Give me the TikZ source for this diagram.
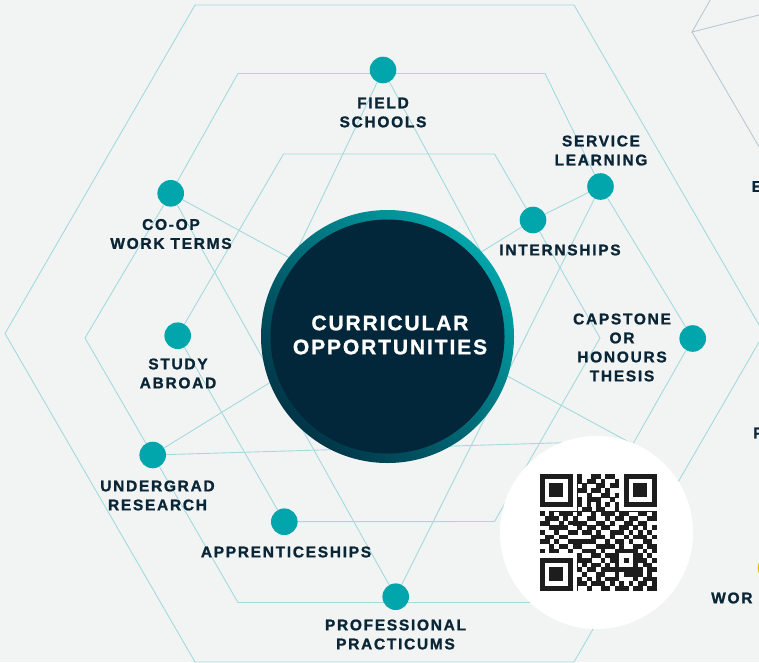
\documentclass[tikz,border=0pt]{standalone}
\usepackage{fontspec}
\newfontfamily\lblfont[LetterSpace=11, BoldFeatures={FakeBold=1.2}]{Liberation Sans}
\newfontfamily\corefont[LetterSpace=9, BoldFeatures={FakeBold=1.2}]{Liberation Sans}
\definecolor{bgc}{HTML}{F2F4F3}
\definecolor{webc}{HTML}{A3DADE}
\definecolor{dotc}{HTML}{00A6AB}
\definecolor{inkc}{HTML}{0A2536}
\definecolor{corec}{HTML}{02263A}
\definecolor{ringhi}{HTML}{00A4A9}
\definecolor{ringlo}{HTML}{003547}
\definecolor{qrink}{HTML}{1D1D1D}
\definecolor{grayc}{HTML}{BAC8D2}
\definecolor{yelc}{HTML}{F5B400}
\tikzset{
  web/.style={draw=webc, line width=0.9pt},
  grayline/.style={draw=grayc, line width=0.9pt},
  dotnode/.style={circle, fill=dotc, minimum size=26.6pt, inner sep=0pt},
  lbl/.style={text=inkc, font=\lblfont\bfseries\fontsize{15.5}{19}\selectfont, align=center, inner sep=0pt},
  corelbl/.style={text=white, font=\corefont\bfseries\fontsize{21}{24}\selectfont, align=center, inner sep=0pt},
}
\newcommand\qrrow[2]{\def\qrr{#1}\def\qrc{0}\qrparse#2\relax}
\def\qrdo{\fill[qrink] ({540+\qrc*4.66},{474+\qrr*4.66}) rectangle ++(4.9,4.9);}
\def\qrparse#1{\ifx\relax#1\else\ifnum#1=1 \qrdo\fi\pgfmathtruncatemacro\qrc{\qrc+1}\expandafter\qrparse\fi}
\newcommand\qrbox[4]{\fill[#4] ({540+#1*4.66},{474+#2*4.66}) rectangle ++({#3*4.66},{#3*4.66});}
\begin{document}
\begin{tikzpicture}[x=1pt,y=-1pt]
\clip (0,0) rectangle (759,662);
\fill[bgc] (0,0) rectangle (759,662);
% key points
\coordinate (fs) at (383,70);
\coordinate (sl) at (600.5,186.5);
\coordinate (int) at (533,220);
\coordinate (coop) at (170.7,193.3);
\coordinate (sa) at (177.7,335.7);
\coordinate (cap) at (692.7,338.5);
\coordinate (ur) at (152.7,455);
\coordinate (app) at (284.3,521.7);
\coordinate (pp) at (395.7,596.7);
\coordinate (hub) at (387.5,336.5);
\coordinate (qrc) at (596.5,532.5);
\coordinate (fsleft) at (278,290);
\coordinate (fsright) at (500,287);
\coordinate (coopend) at (638,447);
\coordinate (urend) at (620,441);
\coordinate (gv) at (692,32);
% hexagons
\draw[web] (195,5) -- (574,5) -- (764,333.5) -- (574,662) -- (195,662) -- (5,333.5) -- cycle;
\draw[web] (238,73.5) -- (545,73.5) -- (sl) -- (cap) -- (543,602.5) -- (238,602.5) -- (ur) -- (85,338) -- (coop) -- cycle;
\draw[web] (283.5,154) -- (494.5,154) -- (int) -- (600,338) -- (494.5,521.5) -- (app) -- (sa) -- cycle;
% connectors
\draw[web] (fs) -- (fsleft);
\draw[web] (fs) -- (fsright);
\draw[web] (coop) -- (pp);
\draw[web] (sl) -- (pp);
\draw[web] (coop) -- (coopend);
\draw[web] (ur) -- (int);
\draw[web] (int) -- (sl);
\draw[web] (ur) -- (urend);
% grey lines top right
\draw[grayline] (717,-12) -- (gv) -- (800,4.6);
\draw[grayline] (gv) -- (800,217);
% dots
\foreach \p in {fs,sl,int,coop,sa,cap,ur,app,pp} \node[dotnode] (\p dot) at (\p) {};
\node[dotnode, fill=yelc] (ydot) at (771,568) {};
% central circle
\shade[top color=ringhi, bottom color=ringlo, shading angle=-45] (hub) circle[radius=126.5];
\fill[corec] (hub) circle[radius=117];
\node[corelbl] (core) at (390,335) {CURRICULAR\\OPPORTUNITIES};
% QR
\fill[white] (qrc) circle[radius=96.5];
\qrrow{0}{10110 11010 01101 10010 11011}
\qrrow{1}{01101 00110 11010 01011 01101}
\qrrow{2}{11010 11101 00110 11100 10110}
\qrrow{3}{00101 00011 01101 00111 01011}
\qrrow{4}{10111 11100 10011 01010 11010}
\qrrow{5}{01001 00110 11100 10101 00111}
\qrrow{6}{11100 11011 00101 11010 10101}
\qrrow{7}{00110 00101 10110 01001 11010}
\qrrow{8}{10101 11010 01011 10110 01101}
\qrrow{9}{01110 10100 11001 01101 10011}
\qrrow{10}{11001 01111 00110 10011 01100}
\qrrow{11}{00111 10010 11011 00110 10101}
\qrrow{12}{10010 01101 10100 11101 01010}
\qrrow{13}{01101 11000 01110 10010 11101}
\qrrow{14}{11010 00111 11001 01101 00110}
\qrrow{15}{00101 10110 00111 10100 11011}
\qrrow{16}{10110 01001 11010 01111 00101}
\qrrow{17}{01011 10110 01101 10001 11010}
\qrrow{18}{11100 01011 10010 11010 01101}
\qrrow{19}{00110 11101 01101 00111 10110}
\qrrow{20}{10101 00110 11011 10100 01011}
\qrrow{21}{01110 11001 00110 01011 11010}
\qrrow{22}{11011 01110 10101 11000 10111}
\qrrow{23}{00100 10011 01110 10101 01101}
\qrrow{24}{11010 11100 10011 01110 11011}
\qrbox{0}{0}{8}{white}\qrbox{0}{0}{7}{qrink}\qrbox{1}{1}{5}{white}\qrbox{2}{2}{3}{qrink}
\qrbox{17}{0}{8}{white}\qrbox{18}{0}{7}{qrink}\qrbox{19}{1}{5}{white}\qrbox{20}{2}{3}{qrink}
\qrbox{0}{17}{8}{white}\qrbox{0}{18}{7}{qrink}\qrbox{1}{19}{5}{white}\qrbox{2}{20}{3}{qrink}
\qrbox{16}{16}{5}{qrink}\qrbox{17}{17}{3}{white}\qrbox{18}{18}{1}{qrink}
\foreach \k in {9,11,...,15} {\qrbox{\k}{6}{1}{white}\qrbox{6}{\k}{1}{white}}
\foreach \k in {8,10,...,16} {\qrbox{\k}{6}{1}{qrink}\qrbox{6}{\k}{1}{qrink}}
\coordinate (qr) at (qrc);
% labels
\node[lbl] (fslbl) at (383,112.5) {FIELD\\SCHOOLS};
\node[lbl] (sllbl) at (601,150.5) {SERVICE\\LEARNING};
\node[lbl] (intlbl) at (560,250) {INTERNSHIPS};
\node[lbl] (cooplbl) at (171,234) {CO-OP\\WORK TERMS};
\node[lbl] (salbl) at (178,373.5) {STUDY\\ABROAD};
\node[lbl] (caplbl) at (622,347.5) {CAPSTONE\\OR\\HONOURS\\THESIS};
\node[lbl] (urlbl) at (157.5,495.5) {UNDERGRAD\\RESEARCH};
\node[lbl] (applbl) at (286,552) {APPRENTICESHIPS};
\node[lbl] (pplbl) at (395.5,634.5) {PROFESSIONAL\\PRACTICUMS};
\node[lbl, anchor=west] (ecut) at (751.5,186.5) {E};
\node[lbl, anchor=west] (pcut) at (753,433) {P};
\node[lbl, anchor=west] (worcut) at (711,598) {WOR};
\end{tikzpicture}
\end{document}
